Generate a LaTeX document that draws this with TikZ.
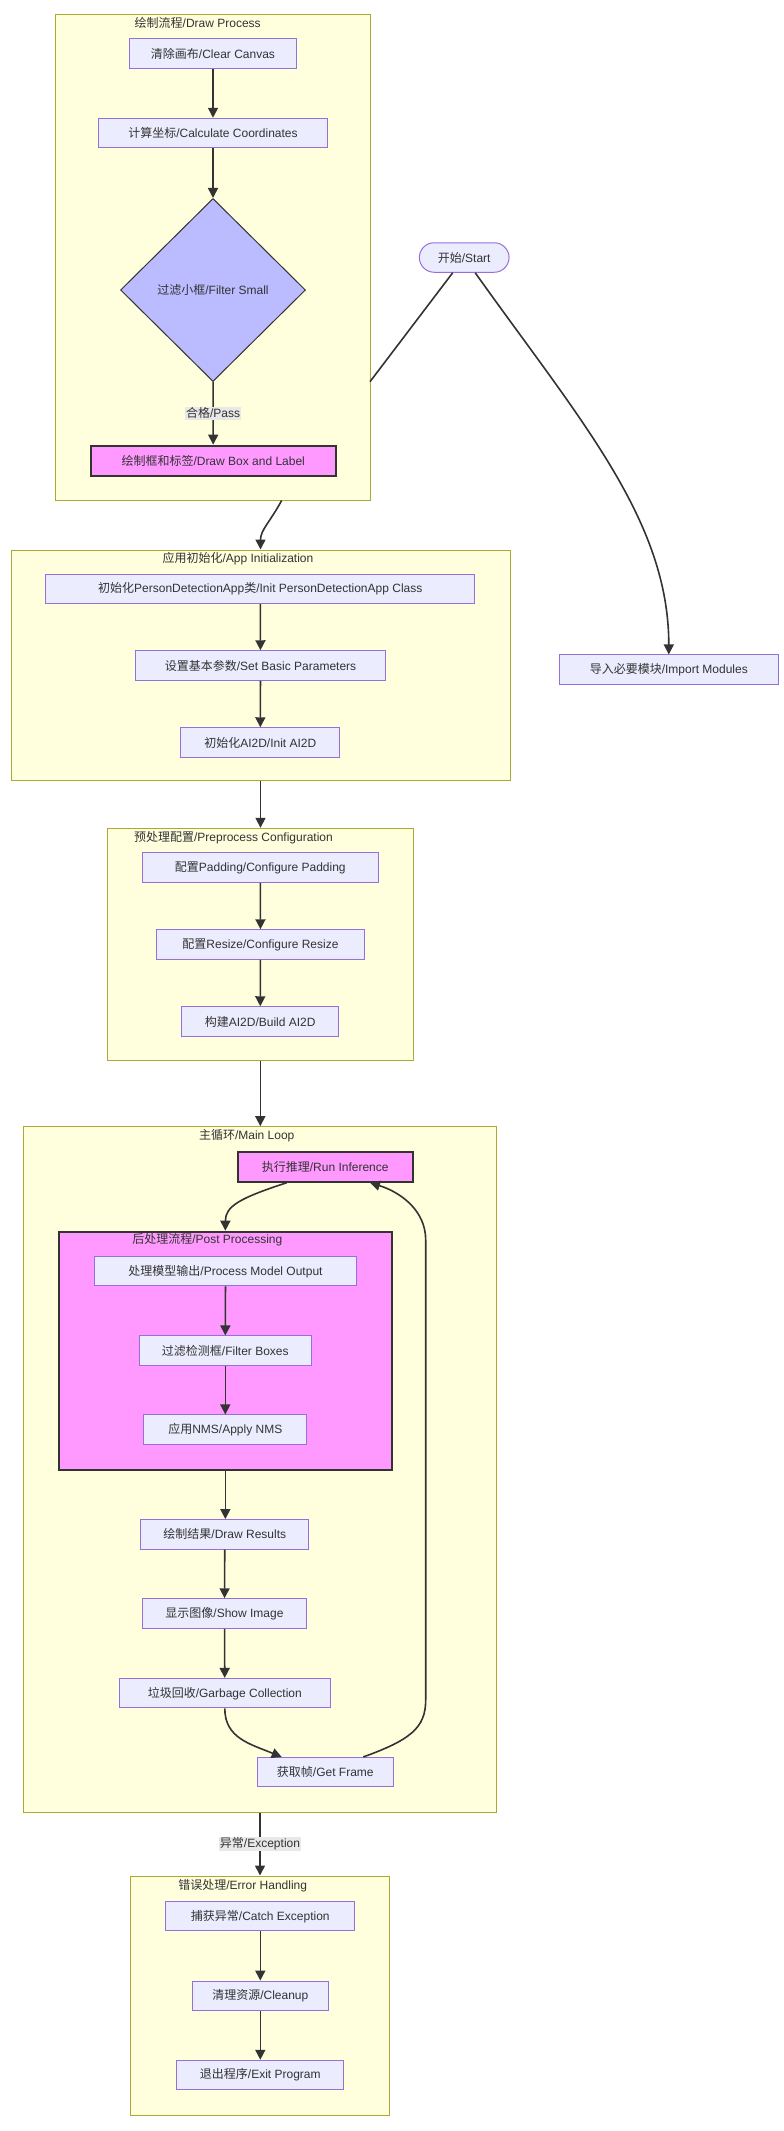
\documentclass[tikz,border=0pt]{standalone}
\usepackage{fontspec}
\setmainfont{Liberation Sans}
\newfontfamily\zhfont{Noto Sans CJK SC}
\newcommand{\zh}[1]{{\zhfont #1}}
\usepackage{tikz}
\usetikzlibrary{arrows.meta,calc,positioning,shapes.geometric}
\definecolor{klyngefyll}{HTML}{FFFFDE}
\definecolor{klyngekant}{HTML}{AAAA33}
\definecolor{boksfyll}{HTML}{ECECFF}
\definecolor{bokskant}{HTML}{9370DB}
\definecolor{rosafyll}{HTML}{FF99FF}
\definecolor{mork}{HTML}{333333}
\definecolor{ruterfyll}{HTML}{BBBBFF}
\definecolor{etikettfyll}{HTML}{E8E8E8}
\tikzset{
    >={Triangle[length=10pt,width=10pt]},
    boks/.style={
           rectangle,
           draw=bokskant, fill=boksfyll,
           line width=1pt,
           minimum height=29.5pt,
           inner sep=0pt,
           text=mork,
           font=\fontsize{12}{14}\selectfont,
           text centered},
    rosa/.style={
           boks,
           draw=mork, fill=rosafyll,
           line width=2pt},
    ruter/.style={
           diamond,
           draw=mork, fill=ruterfyll,
           line width=1pt,
           minimum width=185pt, minimum height=183pt,
           inner sep=0pt,
           text=mork,
           font=\fontsize{12}{14}\selectfont},
    klynge/.style={
           rectangle,
           draw=klyngekant, fill=klyngefyll,
           line width=1pt,
           inner sep=0pt},
    rosaklynge/.style={
           klynge,
           draw=mork, fill=rosafyll,
           line width=2pt},
    tittel/.style={
           inner sep=0pt,
           text=mork,
           font=\fontsize{12}{14}\selectfont},
    etikett/.style={
           fill=etikettfyll,
           inner sep=1pt,
           text=mork,
           font=\fontsize{12}{14}\selectfont},
    pil/.style={
           ->,
           draw=mork,
           line width=1.6pt},
    linje/.style={
           draw=mork,
           line width=1.6pt}
}

\begin{document}
\begin{tikzpicture}[x=1pt, y=-1pt]
        \useasboundingbox (0,0) rectangle (784,2131);
        % grupper
        \node[klynge, minimum width=314.3pt, minimum height=486pt] (drawgrp) at (212.85,257) {};
        \node[klynge, minimum width=499pt, minimum height=230.7pt] (appgrp) at (260.5,665.35) {};
        \node[klynge, minimum width=306pt, minimum height=231.7pt] (pregrp) at (260.3,944.15) {};
        \node[klynge, minimum width=473.4pt, minimum height=685.6pt] (loopgrp) at (260,1469.5) {};
        \node[rosaklynge, minimum width=332.7pt, minimum height=238.3pt] (postgrp) at (225.35,1350.85) {};
        \node[klynge, minimum width=258.6pt, minimum height=239pt] (errgrp) at (260,1995.5) {};
        \node[tittel] (drawtit) at (197.7,22.7) {\zh{绘制流程}/Draw Process};
        \node[tittel] (apptit) at (238,559) {\zh{应用初始化}/App Initialization};
        \node[tittel] (pretit) at (233.5,837.7) {\zh{预处理配置}/Preprocess Configuration};
        \node[tittel] (looptit) at (246.7,1135.7) {\zh{主循环}/Main Loop};
        \node[tittel] (posttit) at (207.3,1239.7) {\zh{后处理流程}/Post Processing};
        \node[tittel] (errtit) at (242.7,1885.7) {\zh{错误处理}/Error Handling};
        % noder
        \node[boks, minimum width=89.7pt, rounded corners=14.8pt] (start) at (464.2,257.5) {\zh{开始}/Start};
        \node[boks, minimum width=219pt] (import) at (668.8,669.7) {\zh{导入必要模块}/Import Modules};
        \node[boks, minimum width=167.4pt] (clear) at (213,53.7) {\zh{清除画布}/Clear Canvas};
        \node[boks, minimum width=229.4pt] (calc) at (213,133) {\zh{计算坐标}/Calculate Coordinates};
        \node[ruter] (filter) at (213,290) {\zh{过滤小框}/Filter Small};
        \node[rosa, minimum width=245pt, minimum height=30.3pt] (drawbox) at (213.2,460.8) {\zh{绘制框和标签}/Draw Box and Label};
        \node[boks, minimum width=429.3pt] (initapp) at (260.3,588.8) {\zh{初始化}PersonDetectionApp\zh{类}/Init PersonDetectionApp Class};
        \node[boks, minimum width=250.4pt] (setparam) at (260.5,665.5) {\zh{设置基本参数}/Set Basic Parameters};
        \node[boks, minimum width=158.7pt] (initai) at (260.3,742.5) {\zh{初始化}AI2D/Init AI2D};
        \node[boks, minimum width=236pt] (padding) at (260.3,867.7) {\zh{配置}Padding/Configure Padding};
        \node[boks, minimum width=208.4pt] (resize) at (260.5,944.5) {\zh{配置}Resize/Configure Resize};
        \node[boks, minimum width=157pt] (build) at (260.2,1021.5) {\zh{构建}AI2D/Build AI2D};
        \node[rosa, minimum width=175pt, minimum height=30pt] (runinf) at (325.2,1166.7) {\zh{执行推理}/Run Inference};
        \node[boks, minimum width=262.4pt] (procout) at (225.5,1271.2) {\zh{处理模型输出}/Process Model Output};
        \node[boks, minimum width=172pt] (filterbox) at (225.3,1350.7) {\zh{过滤检测框}/Filter Boxes};
        \node[boks, minimum width=162.7pt] (nms) at (225.3,1429.7) {\zh{应用}NMS/Apply NMS};
        \node[boks, minimum width=167.7pt] (drawres) at (224.8,1534.3) {\zh{绘制结果}/Draw Results};
        \node[boks, minimum width=164.4pt] (showimg) at (224.5,1613.5) {\zh{显示图像}/Show Image};
        \node[boks, minimum width=211pt] (garbage) at (224.8,1693.2) {\zh{垃圾回收}/Garbage Collection};
        \node[boks, minimum width=136pt] (getframe) at (325.3,1772.2) {\zh{获取帧}/Get Frame};
        \node[boks, minimum width=189.3pt] (catch) at (260.3,1916.2) {\zh{捕获异常}/Catch Exception};
        \node[boks, minimum width=136pt] (cleanup) at (260.3,1995.8) {\zh{清理资源}/Cleanup};
        \node[boks, minimum width=167.3pt] (exitprog) at (260.3,2075) {\zh{退出程序}/Exit Program};
        \coordinate (inndraw) at (370,381.7);
        % kanter
        \draw[linje] ($(start.south)+(-11.5,0)$) -- (inndraw);
        \draw[pil] ($(start.south)+(11,0)$) .. controls (580,420) and (668.8,520) .. (import.north);
        \draw[pil] (clear) -- (calc);
        \draw[pil] (calc) -- (filter);
        \draw[pil] (filter) -- node[etikett] (pass) {\zh{合格}/Pass} (drawbox);
        \draw[pil] ($(drawgrp.south)+(68.8,0)$) .. controls (270,522) and (260.5,530) .. (appgrp.north);
        \draw[pil] (initapp) -- (setparam);
        \draw[pil] (setparam) -- (initai);
        \draw[pil] (appgrp.south) -- (appgrp.south |- pregrp.north);
        \draw[pil] (padding) -- (resize);
        \draw[pil] (resize) -- (build);
        \draw[pil] (pregrp.south) -- (pregrp.south |- loopgrp.north);
        \draw[pil] ($(runinf.south)+(-38.5,0)$) .. controls (240,1198) and (225.35,1206) .. (postgrp.north);
        \draw[pil] (procout) -- (filterbox);
        \draw[pil] (filterbox) -- (nms);
        \draw[pil] (postgrp.south) -- (postgrp.south |- drawres.north);
        \draw[pil] (drawres) -- (showimg);
        \draw[pil] (showimg) -- (garbage);
        \draw[pil] (garbage.south) .. controls (224.8,1738) and (250,1744) .. ($(getframe.north)+(-43.6,0)$);
        \draw[pil] ($(getframe.north)+(38,0)$) .. controls (410,1740) and (425.7,1728) .. (425.7,1700)
            -- (425.7,1240) .. controls (425.7,1210) and (400,1192) .. ($(runinf.south)+(44.8,0)$);
        \draw[pil] (loopgrp.south) -- node[etikett] (unntak) {\zh{异常}/Exception} (loopgrp.south |- errgrp.north);
        \draw[pil] (catch) -- (cleanup);
        \draw[pil] (cleanup) -- (exitprog);
\end{tikzpicture}
\end{document}
